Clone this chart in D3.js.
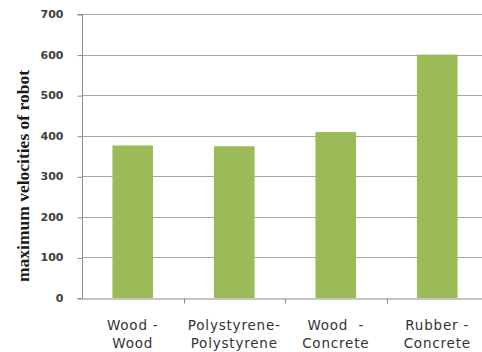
<!DOCTYPE html>
<html>
<head>
<meta charset="utf-8">
<script src="https://cdn.jsdelivr.net/npm/d3@7"></script>
<style>
  html, body { margin: 0; padding: 0; background: #fff; }
  svg { display: block; }
</style>
</head>
<body>
<svg id="chart" width="482" height="352"></svg>
<script>
// Surface pairs and their measured maximum velocities
const categoryLines = [
  ["Wood -", "Wood"],
  ["Polystyrene-", "Polystyrene"],
  ["Wood  -", "Concrete"],
  ["Rubber -", "Concrete"]
];
const categories = ["Wood-Wood", "Polystyrene-Polystyrene", "Wood-Concrete", "Rubber-Concrete"];
const velocities = [376, 374, 409, 600];
const yTicks = [0, 100, 200, 300, 400, 500, 600, 700];
const yTitle = "maximum velocities of robot";

const svg = d3.select("#chart");
const plot = { left: 82, right: 488, top: 14, bottom: 298 };

const x = d3.scaleBand()
  .domain(categories)
  .range([plot.left, plot.right])
  .paddingInner(0.6)
  .paddingOuter(0.3);

const xOuter = d3.scaleBand()
  .domain(categories)
  .range([plot.left, plot.right]);

const y = d3.scaleLinear()
  .domain([0, 700])
  .range([plot.bottom, plot.top]);

// Horizontal gridlines
svg.append("g")
  .selectAll("line")
  .data(yTicks.filter(d => d > 0))
  .join("line")
  .attr("x1", plot.left)
  .attr("x2", plot.right)
  .attr("y1", d => Math.round(y(d)) + 0.5)
  .attr("y2", d => Math.round(y(d)) + 0.5)
  .attr("stroke", "#a6a6a6")
  .attr("stroke-width", 1);

// Bars
svg.append("g")
  .selectAll("rect")
  .data(velocities)
  .join("rect")
  .attr("x", (d, i) => x(categories[i]))
  .attr("width", x.bandwidth())
  .attr("y", d => y(d))
  .attr("height", d => y(0) - y(d))
  .attr("fill", "#9bbb59");

// Y axis
const yAxis = d3.axisLeft(y)
  .tickValues(yTicks)
  .tickSize(5)
  .tickPadding(14);

const gy = svg.append("g")
  .attr("transform", `translate(${plot.left + 0.5},0)`)
  .call(yAxis);
gy.select(".domain").attr("stroke", "#8c8c8c").attr("d", `M-5,${plot.top + 0.5}H0V${plot.bottom + 0.5}H-5`);
gy.selectAll(".tick line").attr("stroke", "#8c8c8c").attr("transform", "translate(0,0.5)");
gy.selectAll(".tick text")
  .attr("font-family", "DejaVu Sans, sans-serif")
  .attr("font-weight", "bold")
  .attr("font-size", 11)
  .attr("fill", "#404040");

// X axis
const xAxis = d3.axisBottom(xOuter)
  .tickSize(0)
  .tickFormat("");
const gx = svg.append("g")
  .attr("transform", `translate(0,${plot.bottom + 0.5})`)
  .call(xAxis);
gx.select(".domain").attr("stroke", "#8c8c8c");
gx.selectAll(".tick").remove();

// Category separator ticks
gx.append("g")
  .selectAll("line")
  .data(categories.slice(1))
  .join("line")
  .attr("x1", d => Math.round(xOuter(d)) + 0.5)
  .attr("x2", d => Math.round(xOuter(d)) + 0.5)
  .attr("y1", 0)
  .attr("y2", 5)
  .attr("stroke", "#8c8c8c");

// Two-line category labels
const labels = svg.append("g")
  .selectAll("text")
  .data(categoryLines)
  .join("text")
  .attr("x", (d, i) => xOuter(categories[i]) + xOuter.bandwidth() / 2)
  .attr("y", 330)
  .attr("text-anchor", "middle")
  .attr("font-family", "DejaVu Sans, sans-serif")
  .attr("font-size", 13.5)
  .attr("letter-spacing", 0.8)
  .attr("fill", "#333");
labels.selectAll("tspan")
  .data(d => d)
  .join("tspan")
  .attr("x", function () { return d3.select(this.parentNode).attr("x"); })
  .attr("dy", (d, i) => i === 0 ? 0 : 18)
  .attr("xml:space", "preserve")
  .style("white-space", "pre")
  .text(d => d);

// Y axis title
svg.append("text")
  .attr("transform", `translate(29,${176}) rotate(-90)`)
  .attr("text-anchor", "middle")
  .attr("font-family", "Liberation Serif, serif")
  .attr("font-weight", "bold")
  .attr("font-size", 17.5)
  .attr("fill", "#1a1a1a")
  .text(yTitle);
</script>
</body>
</html>
